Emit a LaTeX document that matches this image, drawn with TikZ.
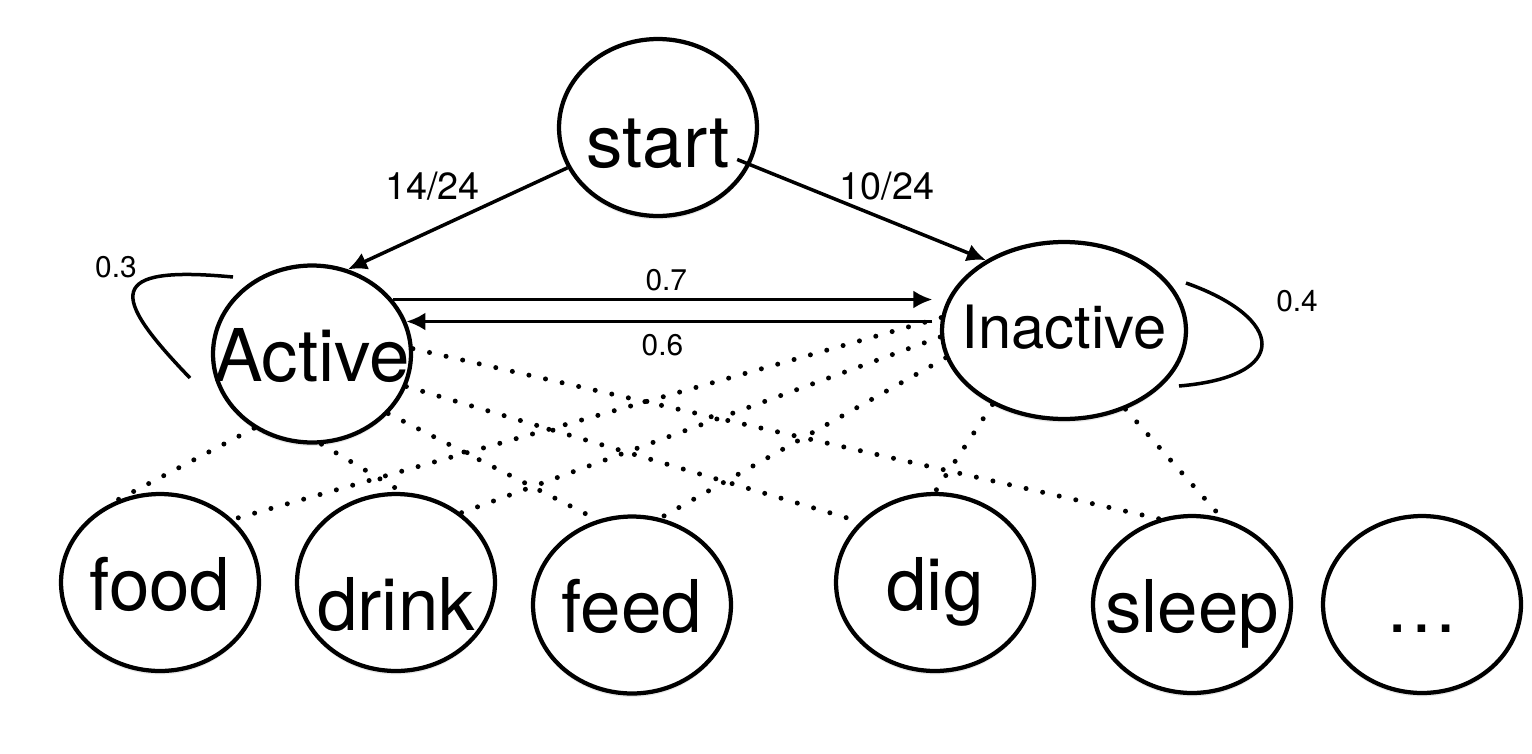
\documentclass[tikz,border=0pt]{standalone}
\usepackage{fontspec}
\setmainfont{TeX Gyre Heros}
\usetikzlibrary{shapes.geometric,arrows.meta,shadows}

\tikzset{
  bubble/.style={ellipse, draw, line width=0.085cm, fill=white,
    drop shadow={opacity=0.18, shadow xshift=0cm, shadow yshift=-0.07cm},
    minimum width=3.96cm, minimum height=3.54cm, inner sep=0pt,
    text height=1.1cm, text depth=0pt, font=\fontsize{41.4}{48}\selectfont},
  wide/.style={minimum width=4.88cm, text height=0.7cm, font=\fontsize{34}{40}\selectfont},
  arr/.style={line width=0.07cm, -{Latex[length=0.38cm,width=0.36cm]}},
  loopline/.style={line width=0.07cm},
  dotline/.style={line width=0.1cm, line cap=round, dash pattern=on 0pt off 0.34cm},
  biglbl/.style={inner sep=0pt, font=\fontsize{21.5}{26}\selectfont},
  smalllbl/.style={inner sep=0pt, font=\fontsize{17}{20}\selectfont}
}
\newcommand{\word}[1]{\makebox[0pt]{#1}}

\begin{document}
\begin{tikzpicture}[x=0.02cm, y=-0.02cm]
  \useasboundingbox (0,0) rectangle (1532,754);
  \node[bubble, text height=1.62cm] (start) at (658,127.5) {\word{start}};
  \node[bubble] (Active) at (312,354) {\word{Active}};
  \node[bubble, wide] (Inactive) at (1064,330.5) {\word{Inactive}};
  \node[bubble] (food) at (160,582.5) {\word{food}};
  \node[bubble, text height=1.92cm] (drink) at (396,582.5) {\word{drink}};
  \node[bubble] (feed) at (632,605) {\word{feed}};
  \node[bubble] (dig) at (935,582.5) {\word{dig}};
  \node[bubble] (sleep) at (1192,604.5) {\word{sleep}};
  \node[bubble] (more) at (1422,604.5) {\word{…}};

  \draw[arr] (start.204) -- node[biglbl, midway, shift={(-25,-32)}] {14/24} (Active.67);
  \draw[arr, shorten <=-0.28cm] (start.338) -- node[biglbl, midway, shift={(19,-26)}] {10/24} (Inactive.138);
  \draw[arr, shorten >=0.15cm] (Active.34) -- node[smalllbl, midway, above=0.14cm] {0.7} (Active.34 -| Inactive.west);
  \draw[arr, shorten <=0.15cm] (Active.19 -| Inactive.west) -- node[smalllbl, pos=0.52, below=0.22cm] {0.6} (Active.19);

  \draw[loopline] ([shift={(-79,-77)}]Active.center) .. controls ([shift={(-207,-89)}]Active.center) and ([shift={(-202,-59)}]Active.center) .. ([shift={(-122,24)}]Active.center) node[smalllbl, at start, shift={(-117,-10)}] {0.3};
  \draw[loopline] ([shift={(122,-47.5)}]Inactive.center) .. controls ([shift={(221,-12.5)}]Inactive.center) and ([shift={(228,46)}]Inactive.center) .. ([shift={(115,55.5)}]Inactive.center) node[smalllbl, at start, shift={(111,18.5)}] {0.4};

  \draw[dotline] (Active.232) -- (food.120);
  \draw[dotline] (Active.276) -- (drink.86);
  \draw[dotline] (Active.322) -- (feed.112);
  \draw[dotline] (Active.341) -- (dig.141);
  \draw[dotline] (Active.3) -- (sleep.111);
  \draw[dotline] (Inactive.174) -- (food.41);
  \draw[dotline] (Inactive.183) -- (drink.47);
  \draw[dotline] (Inactive.193) -- (feed.72);
  \draw[dotline] (Inactive.226) -- (dig.90);
  \draw[dotline] (Inactive.308) -- (sleep.71);
\end{tikzpicture}
\end{document}
